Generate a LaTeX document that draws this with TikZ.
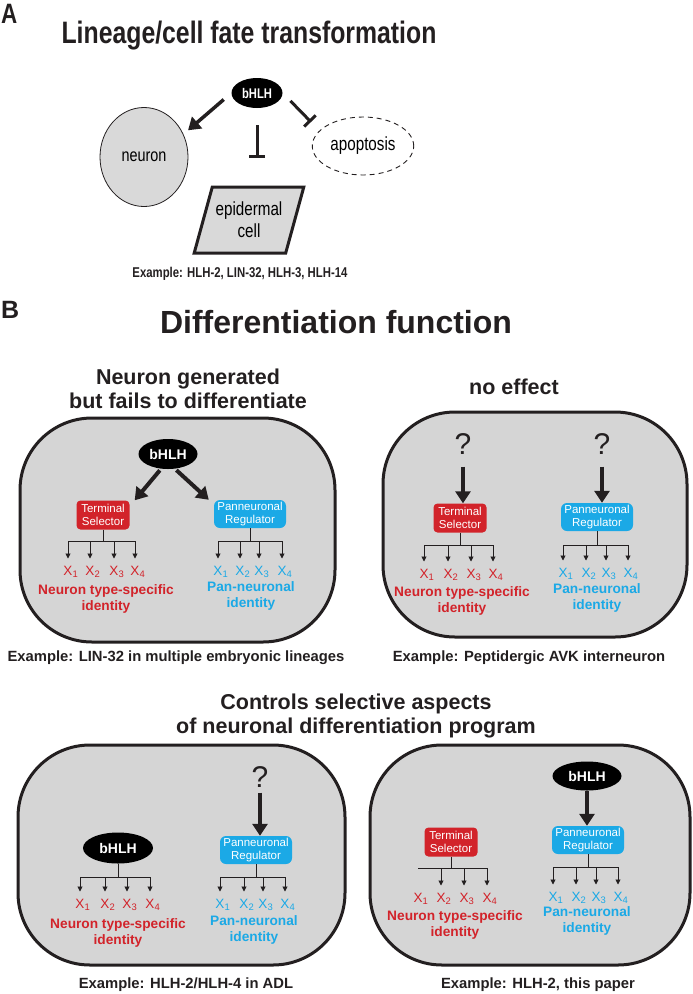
\documentclass[tikz,border=0pt]{standalone}
\usepackage{fontspec}
\setmainfont{Liberation Sans}
\newfontfamily\narrowfont[FakeStretch=0.8]{Liberation Sans}
\usepackage{tikz}
\usetikzlibrary{positioning}
\usetikzlibrary{arrows.meta}
\usetikzlibrary{shapes.geometric}
\definecolor{ink}{HTML}{231F20}
\definecolor{tsred}{HTML}{D2232A}
\definecolor{pnblue}{HTML}{1BA9E6}
\definecolor{cellgray}{HTML}{D5D5D5}
\definecolor{shapegray}{HTML}{D9D9D9}

\begin{document}
\begin{tikzpicture}[x=1pt, y=-1pt,
    cell/.style = {draw=ink, line width=3pt, fill=cellgray, rounded corners=72pt},
    dark/.style = {ellipse, fill=black, text=white, inner sep=0pt, font=\bfseries\fontsize{14}{16}\selectfont},
    tsbox/.style = {fill=tsred, text=white, rounded corners=4pt, align=center, inner sep=1pt, minimum width=53pt, minimum height=29pt, font=\fontsize{11.5}{13}\selectfont},
    pnbox/.style = {fill=pnblue, text=white, rounded corners=6pt, align=center, inner sep=1pt, minimum width=72pt, minimum height=28pt, font=\fontsize{11.5}{13}\selectfont},
    xlab/.style = {inner sep=1pt, anchor=base, font=\fontsize{13.5}{15}\selectfont},
    ident/.style = {align=center, font=\bfseries\fontsize{13.7}{15.5}\selectfont},
    sub/.style = {align=center, text=ink, font=\bfseries\fontsize{21.5}{24}\selectfont},
    example/.style = {text=ink, anchor=base, font=\bfseries\fontsize{14.8}{17}\selectfont},
    quest/.style = {text=ink, inner sep=0pt, font=\fontsize{30}{32}\selectfont},
    fat/.style = {-{Triangle[length=12pt, width=15pt]}, line width=4pt, draw=ink},
    blunt/.style = {-{Bar[width=16pt]}, line width=3pt, draw=ink},
    tip/.style = {-{Triangle[length=5pt, width=5pt]}, line width=0.9pt, draw=ink, shorten >=6pt}]
    \useasboundingbox (0,0) rectangle (693,994);

    % A: lineage
    \node[anchor=base west, inner sep=0pt, text=ink, font=\narrowfont\bfseries\fontsize{28}{30}\selectfont] (tagA) at (1,23) {A};
    \node[anchor=base, text=ink, font=\narrowfont\bfseries\fontsize{31}{34}\selectfont] (titleA) at (249,43) {Lineage/cell fate transformation};
    \node[dark, minimum width=51pt, minimum height=30pt, font=\narrowfont\bfseries\fontsize{14}{16}\selectfont] (ah) at (257,93) {bHLH};
    \node[ellipse, draw=ink, line width=0.8pt, fill=shapegray, minimum width=88pt, minimum height=99pt, font=\narrowfont\fontsize{18}{20}\selectfont] (neuron) at (144,157) {neuron};
    \node[ellipse, draw=ink, line width=0.9pt, dash pattern=on 5pt off 4pt, minimum width=97pt, minimum height=58pt, font=\narrowfont\fontsize{19}{21}\selectfont] (apop) at (363,146) {apoptosis};
    \node[trapezium, trapezium left angle=67, trapezium right angle=113, trapezium stretches body, draw=ink, line width=3pt, fill=shapegray, minimum width=90pt, minimum height=66pt, align=center, font=\narrowfont\fontsize{19}{22}\selectfont] (epi) at (249,220) {epidermal\\cell};
    \coordinate (apbar) at (311,122);
    \draw[fat, line width=3.5pt, shorten <=10pt, shorten >=6pt] (ah.west) -- (neuron.30);
    \draw[blunt, shorten <=11pt] (ah.east) -- (apbar);
    \draw[blunt, shorten <=17pt, shorten >=27pt] (ah.south) -- (ah.south |- epi.north);
    \node[example, font=\narrowfont\bfseries\fontsize{14.2}{17}\selectfont] (exA) at (240,277) {Example: HLH-2, LIN-32, HLH-3, HLH-14};

    % B: differentiation
    \node[anchor=base west, inner sep=0pt, text=ink, font=\bfseries\fontsize{25}{28}\selectfont] (tagB) at (1,318) {B};
    \node[anchor=base, text=ink, font=\bfseries\fontsize{32}{36}\selectfont] (titleB) at (336,333) {Differentiation function};
    \node[sub] (subTL) at (188,389) {Neuron generated\\but fails to differentiate};
    \node[sub] (subTR) at (514,387) {no effect};
    \node[sub] (subB) at (356,716) {Controls selective aspects\\of neuronal differentiation program};

    \node[cell, minimum width=315pt, minimum height=224pt] (ctl) at (177.5,530) {};
    \node[cell, minimum width=304pt, minimum height=225pt] (ctr) at (535,524.5) {};
    \node[cell, minimum width=327pt, minimum height=220pt] (cbl) at (181.5,855) {};
    \node[cell, minimum width=320pt, minimum height=220pt] (cbr) at (530,855) {};

    % top left
    \node[dark, minimum width=59pt, minimum height=30pt] (tlh) at (168,454) {bHLH};
    \node[tsbox] (tlts) at (103,515) {Terminal\\Selector};
    \node[pnbox] (tlpn) at (250,514) {Panneuronal\\Regulator};
    \draw[fat, shorten <=2pt] (tlh.-115) -- ([xshift=5pt]tlts.north east);
    \draw[fat, shorten <=2pt] (tlh.-65) -- ([xshift=-5pt]tlpn.north west);

    % top right
    \node[quest] (trq1) at (463,444) {?};
    \node[quest] (trq2) at (602,444) {?};
    \node[tsbox] (trts) at (460,518) {Terminal\\Selector};
    \node[pnbox] (trpn) at (597,517) {Panneuronal\\Regulator};
    \draw[fat, shorten <=12pt] (trq1.south) -- (trq1.south |- trts.north);
    \draw[fat, shorten <=12pt] (trq2.south) -- (trq2.south |- trpn.north);

    % bottom left
    \node[quest] (blq) at (260,777) {?};
    \node[dark, minimum width=70pt, minimum height=31pt] (blh) at (118,848) {bHLH};
    \node[pnbox] (blpn) at (256,850) {Panneuronal\\Regulator};
    \draw[fat, shorten <=5pt] (blq.south) -- (blq.south |- blpn.north);

    % bottom right
    \node[dark, minimum width=69pt, minimum height=29pt] (brh) at (587,776) {bHLH};
    \node[tsbox] (brts) at (451,842) {Terminal\\Selector};
    \node[pnbox] (brpn) at (588,840) {Panneuronal\\Regulator};
    \draw[fat] (brh.south) -- (brh.south |- brpn.north);

    % target genes
    \foreach \pre/\src/\by/\xa/\xb/\xc/\xd/\ly/\col/\fst in {
        tlr/tlts/541/68/90/114/135/575/tsred/1,
        tlb/tlpn/541/218/240/259/282/575/pnblue/1,
        trr/trts/545/424/448/471/493/578/tsred/1,
        trb/trpn/545/563/586/606/628/577/pnblue/1,
        blr/blh/877/80/105/127/150/908/tsred/1,
        blb/blpn/877/220/244/263/285/908/pnblue/1,
        brr/brts/868/418/441/464/487/902/tsred/2,
        brb/brpn/867/553/576/596/618/901/pnblue/1} {
        \foreach \n/\x in {1/\xa,2/\xb,3/\xc,4/\xd}
            \node[xlab, text=\col] (\pre\n) at (\x,\ly) {X\rlap{\textsubscript{\n}}};
        \coordinate (\pre bar) at (\src.south |- 0,\by);
        \draw[line width=0.9pt, draw=ink] (\src.south) -- (\pre bar);
        \draw[line width=0.9pt, draw=ink] (\pre1 |- \pre bar) -- (\pre4 |- \pre bar);
        \foreach \n in {\fst,...,4}
            \draw[tip] (\pre\n |- \pre bar) -- (\pre\n.north);
    }

    \node[ident, text=tsred] (tlid1) at (106,599) {Neuron type-specific\\identity};
    \node[ident, text=pnblue] (tlid2) at (251,596) {Pan-neuronal\\identity};
    \node[ident, text=tsred] (trid1) at (462,601) {Neuron type-specific\\identity};
    \node[ident, text=pnblue] (trid2) at (597,598) {Pan-neuronal\\identity};
    \node[ident, text=tsred] (blid1) at (118,933) {Neuron type-specific\\identity};
    \node[ident, text=pnblue] (blid2) at (254,930) {Pan-neuronal\\identity};
    \node[ident, text=tsred] (brid1) at (455,925) {Neuron type-specific\\identity};
    \node[ident, text=pnblue] (brid2) at (587,921) {Pan-neuronal\\identity};

    \node[example] (exTL) at (176,661) {Example: LIN-32 in multiple embryonic lineages};
    \node[example] (exTR) at (529,661) {Example: Peptidergic AVK interneuron};
    \node[example] (exBL) at (186,988) {Example: HLH-2/HLH-4 in ADL};
    \node[example] (exBR) at (538,988) {Example: HLH-2, this paper};
\end{tikzpicture}
\end{document}
